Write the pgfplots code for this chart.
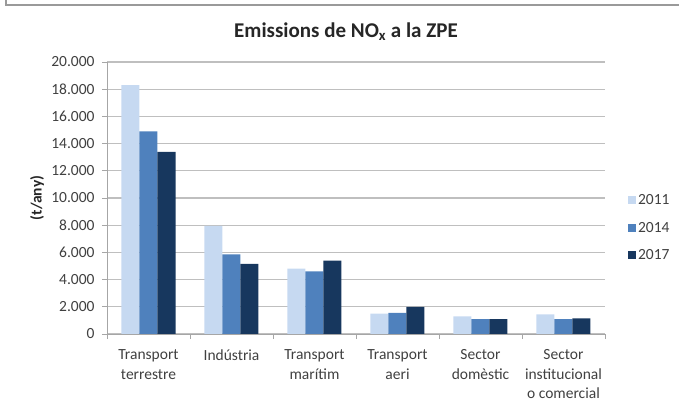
\documentclass[border=0pt]{standalone}
\usepackage{pgfplots}
\pgfplotsset{compat=1.18}
\usepackage{fontspec}
\setmainfont{Carlito}
\definecolor{cA}{HTML}{C6D9F1}
\definecolor{cB}{HTML}{4F81BD}
\definecolor{cC}{HTML}{17375E}
\definecolor{gridc}{HTML}{BFBFBF}
\definecolor{axc}{HTML}{A6A6A6}
\definecolor{framec}{HTML}{9A9A9A}
\definecolor{txt}{HTML}{404040}
\begin{document}
\begin{tikzpicture}
\useasboundingbox (0bp,0bp) rectangle (679bp,409bp);
\draw[framec, line width=1.2bp] (6bp,409bp) -- (6bp,404bp) -- (679bp,404bp);
\node[font=\bfseries\fontsize{21bp}{25bp}\selectfont, text=black!85] at (346bp,377bp) {Emissions de NO\textsubscript{x} a la ZPE};
\begin{axis}[
  at={(107bp,75bp)}, anchor=south west,
  scale only axis, width=498bp, height=272bp,
  ybar=0pt, bar width=18bp,
  xmin=-0.5, xmax=5.5, ymin=0, ymax=20000,
  ytick={0,2000,...,20000},
  xtick={0,1,2,3,4,5},
  xticklabels={{Transport\\terrestre},{Indústria},{Transport\\marítim},{Transport\\aeri},{Sector\\domèstic},{Sector\\institucional\\o comercial}},
  minor xtick={-0.5,0.5,...,5.5},
  axis x line*=bottom, axis y line*=left,
  axis line style={axc, line width=1bp, -},
  tick align=outside, major tick length=5bp, minor tick length=5bp,
  major x tick style={draw=none},
  minor x tick style={axc, line width=0.8bp},
  major y tick style={axc, line width=0.8bp},
  ymajorgrids, grid style={gridc, line width=1.1bp},
  /pgf/number format/assume math mode=true,
  /pgf/number format/.cd, 1000 sep={.}, use comma, fixed, /pgfplots/.cd,
  scaled y ticks=false,
  ticklabel style={font=\fontsize{15.5bp}{19.6bp}\selectfont, text=txt},
  xticklabel style={align=center, yshift=-7bp},
  yticklabel style={xshift=-4bp},
  ylabel={(t/any)},
  ylabel style={font=\bfseries\fontsize{15.5bp}{18bp}\selectfont, text=black!85, at={(axis description cs:-0.1406,0.5)}, anchor=center, rotate=0},
  legend style={at={(1.046,0.39)}, anchor=west, draw=none, fill=none,
    font=\fontsize{15.5bp}{18bp}\selectfont, text=txt,
    row sep=12bp, inner sep=0pt, legend cell align=left},
  legend image code/.code={\fill[#1] (0bp,-4bp) rectangle (8bp,4bp);},
]
\addplot[fill=cA, draw=none] coordinates {(0,18300) (1,7950) (2,4800) (3,1500) (4,1300) (5,1450)};
\addplot[fill=cB, draw=none] coordinates {(0,14900) (1,5850) (2,4600) (3,1550) (4,1100) (5,1100)};
\addplot[fill=cC, draw=none] coordinates {(0,13400) (1,5150) (2,5400) (3,2000) (4,1100) (5,1150)};
\legend{2011,2014,2017}
\end{axis}
\end{tikzpicture}
\end{document}
